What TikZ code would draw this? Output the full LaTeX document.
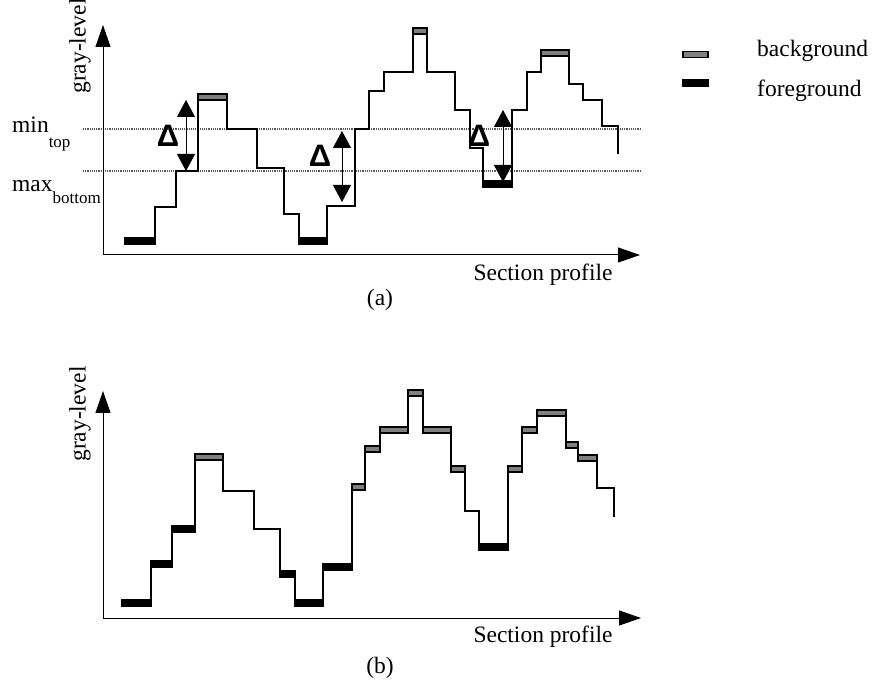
\documentclass[tikz,border=0pt]{standalone}
\usepackage{fontspec}
\setmainfont{Liberation Serif}
\newfontfamily\deltafont{Liberation Sans}
\usetikzlibrary{arrows.meta}

\begin{document}
\begin{tikzpicture}[x=1pt, y=-1pt,
    axis/.style={line width=1pt, -{Triangle[length=22pt,width=15pt]}},
    span/.style={line width=0.8pt, {Triangle[length=17pt,width=18pt]}-{Triangle[length=17pt,width=18pt]}},
    level/.style={densely dotted, line width=1.2pt, black!65},
    curve/.style={line width=1.9pt},
    bg/.style={draw, line width=1.3pt, fill=gray},
    fg/.style={draw, line width=1.3pt, fill=black},
    key/.style={minimum width=25pt, minimum height=6.5pt, inner sep=0pt},
    lbl/.style={font=\fontsize{23.5}{28}\selectfont, inner sep=0pt},
    delta/.style={font=\deltafont\bfseries\fontsize{31}{34}\selectfont, inner sep=0pt}]
    \useasboundingbox (0,0) rectangle (873,700);

    % (a)
    \coordinate (o1) at (103,255);
    \coordinate (y1) at (103,25);
    \coordinate (x1) at (640,255);
    \draw[level] (83,129) -- (640,129);
    \draw[level] (83,171) -- (640,171);
    \draw[axis] (o1) -- (y1);
    \draw[axis] (o1) -- (x1);
    \node[lbl, rotate=90] (ylab1) at (80,46) {gray-level};
    \node[lbl] (xlab1) at (543,275) {Section profile};
    \node[lbl, anchor=base west] (mintop) at (12,133) {min\raisebox{-15pt}{\fontsize{17}{20}\selectfont top}};
    \node[lbl, anchor=base west] (maxbot) at (12,192) {max\raisebox{-12pt}{\fontsize{17}{20}\selectfont bottom}};

    \draw[curve] (125,241) -- (155,241) -- (155,207) -- (176,207) -- (176,171) -- (198,171) -- (198,97)
        -- (227,97) -- (227,129) -- (257,129) -- (257,168) -- (284,168) -- (284,214) -- (299,214)
        -- (299,241) -- (327,241) -- (327,206) -- (355,206) -- (355,129) -- (369,129) -- (369,91)
        -- (384,91) -- (384,72) -- (413,72) -- (413,31) -- (427,31) -- (427,72) -- (455,72)
        -- (455,110) -- (470,110) -- (470,148) -- (483,148) -- (483,184) -- (512,184) -- (512,110)
        -- (527,110) -- (527,72) -- (541,72) -- (541,53) -- (569,53) -- (569,84) -- (583,84)
        -- (583,100) -- (602,100) -- (602,126) -- (618,126) -- (618,154);
    \foreach \a/\b/\y in {125/155/241, 299/327/241, 483/512/184}
        \draw[fg] (\a,\y-3) rectangle (\b,\y+3);
    \foreach \a/\b/\y in {198/227/97, 413/427/31, 541/569/53}
        \draw[bg] (\a,\y-3) rectangle (\b,\y+3);

    \coordinate (s1a) at (186,100);
    \coordinate (s1b) at (186,171);
    \coordinate (s2a) at (342,131);
    \coordinate (s2b) at (342,202);
    \coordinate (s3a) at (503,110);
    \coordinate (s3b) at (503,182);
    \draw[span] (s1a) -- (s1b);
    \draw[span] (s2a) -- (s2b);
    \draw[span] (s3a) -- (s3b);
    \node[delta] (d1) at (168,136) {Δ};
    \node[delta] (d2) at (320,156) {Δ};
    \node[delta] (d3) at (479,136) {Δ};

    \node[lbl] (capa) at (380,300) {(a)};

    % legend
    \node[bg, key] (bgkey) at (695.5,54.5) {};
    \node[fg, key] (fgkey) at (695.5,83) {};
    \node[lbl, anchor=base west] (bgtext) at (757,57) {background};
    \node[lbl, anchor=base west] (fgtext) at (757,97) {foreground};

    % (b)
    \coordinate (o2) at (103,618);
    \coordinate (y2) at (103,391);
    \coordinate (x2) at (641,618);
    \draw[axis] (o2) -- (y2);
    \draw[axis] (o2) -- (x2);
    \node[lbl, rotate=90] (ylab2) at (80,414) {gray-level};
    \node[lbl] (xlab2) at (543,637) {Section profile};

    \draw[curve] (122,603) -- (151,603) -- (151,564) -- (172,564) -- (172,529) -- (195,529) -- (195,457)
        -- (223,457) -- (223,491) -- (254,491) -- (254,529) -- (280,529) -- (280,574) -- (295,574)
        -- (295,603) -- (323,603) -- (323,567) -- (352,567) -- (352,487) -- (365,487) -- (365,449)
        -- (380,449) -- (380,430) -- (408,430) -- (408,393) -- (423,393) -- (423,430) -- (451,430)
        -- (451,469) -- (465,469) -- (465,511) -- (479,511) -- (479,547) -- (508,547) -- (508,469)
        -- (522,469) -- (522,430) -- (537,430) -- (537,413) -- (566,413) -- (566,445) -- (578,445)
        -- (578,458) -- (597,458) -- (597,488) -- (614,488) -- (614,517);
    \foreach \a/\b/\y in {122/151/603, 151/172/564, 172/195/529, 280/295/574, 295/323/603, 323/352/567, 479/508/547}
        \draw[fg] (\a,\y-3) rectangle (\b,\y+3);
    \foreach \a/\b/\y in {195/223/457, 352/365/487, 365/380/449, 380/408/430, 408/423/393, 423/451/430,
        451/465/469, 508/522/469, 522/537/430, 537/566/413, 566/578/445, 578/597/458}
        \draw[bg] (\a,\y-3) rectangle (\b,\y+3);

    \node[lbl] (capb) at (380,668) {(b)};
\end{tikzpicture}
\end{document}
